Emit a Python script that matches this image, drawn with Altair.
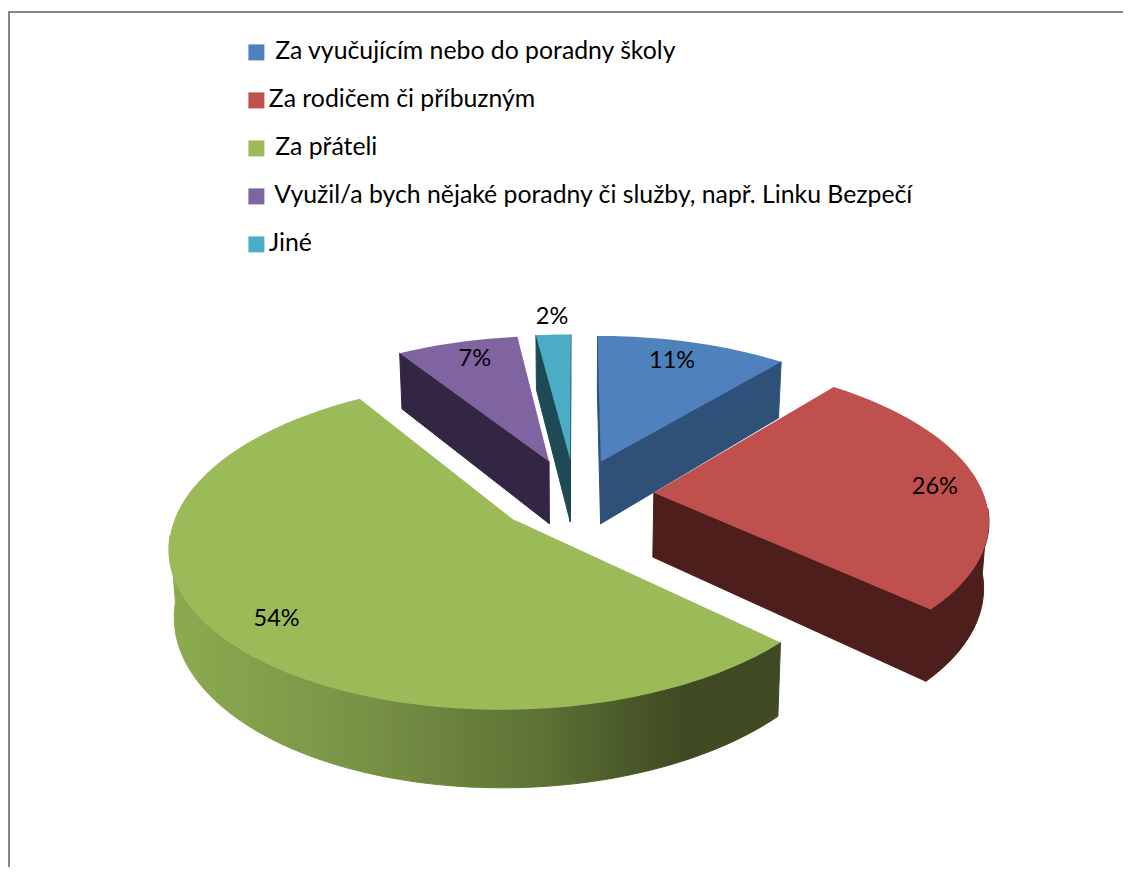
import math
import altair as alt

names = ["\u200b\u00a0Za vyučujícím nebo do poradny školy", "Za rodičem či příbuzným", "\u200b\u00a0Za přáteli",
         "\u200b\u00a0Využil/a bych nějaké poradny či služby, např. Linku Bezpečí", "Jiné"]
shares = [11, 26, 54, 7, 2]
top_colors = ["#4f81bd", "#c0504d", "#9bbb59", "#8064a2", "#4bacc6"]
wall_colors = ["#2f5078", "#4d1e1c", "#3f4a22", "#332642", "#1e4a55"]
label_pos = [0.815, 0.86, 0.84, 0.84, 1.166]
label_turn = [-1.4, 1.2, -2.7, 1.1, 0.2]
paint_order = [3, 4, 0, 1, 2]

CX, CY, R, K, P, E, DEPTH, SHRINK = 575, 495, 330, 0.466, 0.151, 0.24, 76, 0.987


def project(u, v, drop=False):
    w = 1 + P * v
    x = CX + R * u / w
    y = CY - R * K * v / w
    if drop:
        x = CX + (x - CX) * SHRINK
        y += DEPTH * (1 - P) / w
    return [x, y]


total = sum(shares)
slices = []
acc = 0
for s in shares:
    a0 = 2 * math.pi * acc / total
    a1 = 2 * math.pi * (acc + s) / total
    slices.append((a0, a1))
    acc += s


def geometry(i):
    a0, a1 = slices[i]
    mid = (a0 + a1) / 2
    ou, ov = E * math.sin(mid), E * math.cos(mid)
    n = max(4, int((a1 - a0) * 40))
    rim = [(ou + math.sin(a0 + (a1 - a0) * j / n), ov + math.cos(a0 + (a1 - a0) * j / n)) for j in range(n + 1)]
    return (ou, ov), rim, (ou, ov)


def feature(coords, **props):
    return {"type": "Feature", "properties": props,
            "geometry": {"type": "Polygon", "coordinates": [coords + [coords[0]]]}}


def cut_visible(apex, edge, inner):
    a, b, m = project(*apex), project(*edge), project(*inner)
    side_inner = (b[0] - a[0]) * (m[1] - a[1]) - (b[1] - a[1]) * (m[0] - a[0])
    side_drop = b[0] - a[0]
    return side_inner * side_drop < 0


tops, walls, green_wall = [], [], []
for i in paint_order:
    apex, rim, off = geometry(i)
    tops.append(feature([project(*apex)] + [project(*p) for p in rim], name=names[i], order=i))
    front = [p for p in rim if p[1] - off[1] < -0.08]
    if len(front) > 1:
        outer = [project(*p) for p in front] + [project(*p, drop=True) for p in reversed(front)]
        if shares[i] == max(shares):
            green_wall.append(feature(outer, fill=wall_colors[i]))
        else:
            walls.append(feature(outer, fill=wall_colors[i]))
    inner = rim[len(rim) // 2]
    for edge in (rim[0], rim[-1]):
        if shares[i] != max(shares) and cut_visible(apex, edge, inner):
            walls.append(feature([project(*apex), project(*edge), project(*edge, drop=True),
                                  project(*apex, drop=True)], fill=wall_colors[i]))

labels = []
for i, s in enumerate(shares):
    apex, rim, off = geometry(i)
    mid = sum(slices[i]) / 2 + math.radians(label_turn[i])
    x, y = project(apex[0] + label_pos[i] * math.sin(mid), apex[1] + label_pos[i] * math.cos(mid))
    labels.append({"lon": x, "lat": y, "label": f"{s}%"})


def fc(features):
    return alt.InlineData(values={"type": "FeatureCollection", "features": features},
                          format=alt.DataFormat(property="features", type="json"))


proj = dict(type="identity", scale=1, translate=[-8, -8])

wall_layer = alt.Chart(fc(walls)).mark_geoshape(strokeWidth=1).encode(
    fill=alt.Fill("properties.fill:N", scale=None),
    stroke=alt.Stroke("properties.fill:N", scale=None)).project(**proj)

green_gradient = alt.Gradient(gradient="linear", x1=0, x2=1, y1=0, y2=0, stops=[
    alt.GradientStop(offset=0, color="#8cab50"),
    alt.GradientStop(offset=0.3, color="#7a9447"),
    alt.GradientStop(offset=0.6, color="#5e7335"),
    alt.GradientStop(offset=0.84, color="#3f4a22"),
    alt.GradientStop(offset=1, color="#3f4a22"),
])
green_layer = alt.Chart(fc(green_wall)).mark_geoshape(
    strokeWidth=1, fill=green_gradient, stroke=green_gradient).project(**proj)

top_layer = alt.Chart(fc(tops)).mark_geoshape(strokeWidth=0).encode(
    color=alt.Color("properties.name:N",
                    scale=alt.Scale(domain=names, range=top_colors),
                    sort=names,
                    legend=alt.Legend(orient="none", legendX=236, legendY=32, title=None,
                                      symbolType="square", symbolSize=256, symbolStrokeWidth=0,
                                      labelFont="Lato", labelFontSize=24.8, labelColor="#000000",
                                      labelLimit=800, rowPadding=22, labelOffset=0, symbolOffset=0,
                                      labelBaseline="middle", padding=0))
).project(**proj)

text_layer = alt.Chart(alt.Data(values=labels)).mark_text(
    font="Lato", fontSize=23.5, color="#000000").encode(
    longitude="lon:Q", latitude="lat:Q", text="label:N").project(**proj)

frame_top = alt.Chart(alt.Data(values=[{"a": 0}])).mark_rule(color="#868686", strokeWidth=2).encode(
    x=alt.value(0), x2=alt.value(1115), y=alt.value(4))
frame_left = alt.Chart(alt.Data(values=[{"a": 0}])).mark_rule(color="#868686", strokeWidth=2).encode(
    x=alt.value(1), y=alt.value(3), y2=alt.value(859))

chart = alt.layer(frame_top, frame_left, wall_layer, green_layer, top_layer, text_layer).properties(
    width=1115, height=859, padding=0, autosize=alt.AutoSizeParams(type="none")
).configure_view(stroke=None)

chart.save("out.html", embed_options={"renderer": "svg", "actions": False})
